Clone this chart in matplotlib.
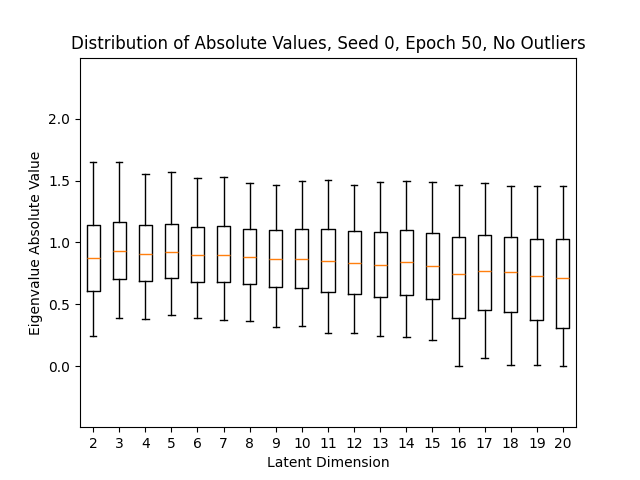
import matplotlib
matplotlib.use("Agg")
import matplotlib.pyplot as plt

# latent dimensions and box statistics
dims = list(range(2, 21))
whislo = [0.241, 0.387, 0.379, 0.411, 0.387, 0.371, 0.362, 0.314, 0.322, 0.265,
          0.265, 0.241, 0.233, 0.208, 0.000, 0.062, 0.005, 0.005, 0.000]
q1 = [0.606, 0.703, 0.687, 0.714, 0.679, 0.679, 0.660, 0.641, 0.630, 0.598,
      0.581, 0.557, 0.573, 0.541, 0.387, 0.452, 0.436, 0.371, 0.306]
med = [0.873, 0.933, 0.906, 0.922, 0.898, 0.898, 0.881, 0.865, 0.865, 0.849,
       0.830, 0.816, 0.841, 0.808, 0.743, 0.768, 0.760, 0.727, 0.711]
q3 = [1.138, 1.168, 1.138, 1.149, 1.125, 1.133, 1.109, 1.100, 1.109, 1.109,
      1.092, 1.084, 1.100, 1.076, 1.043, 1.057, 1.043, 1.027, 1.027]
whishi = [1.652, 1.652, 1.555, 1.571, 1.522, 1.530, 1.482, 1.468, 1.498, 1.506,
          1.466, 1.487, 1.498, 1.487, 1.466, 1.482, 1.457, 1.457, 1.457]

stats = []
for i, d in enumerate(dims):
    stats.append({"label": str(d), "whislo": whislo[i], "q1": q1[i], "med": med[i],
                  "q3": q3[i], "whishi": whishi[i], "fliers": []})

fig, ax = plt.subplots(figsize=(6.4, 4.8), dpi=100)
ax.bxp(stats, showfliers=False)
ax.set_ylim(-0.495, 2.495)
ax.set_title("Distribution of Absolute Values, Seed 0, Epoch 50, No Outliers")
ax.set_xlabel("Latent Dimension")
ax.set_ylabel("Eigenvalue Absolute Value")
plt.savefig("out.png")
